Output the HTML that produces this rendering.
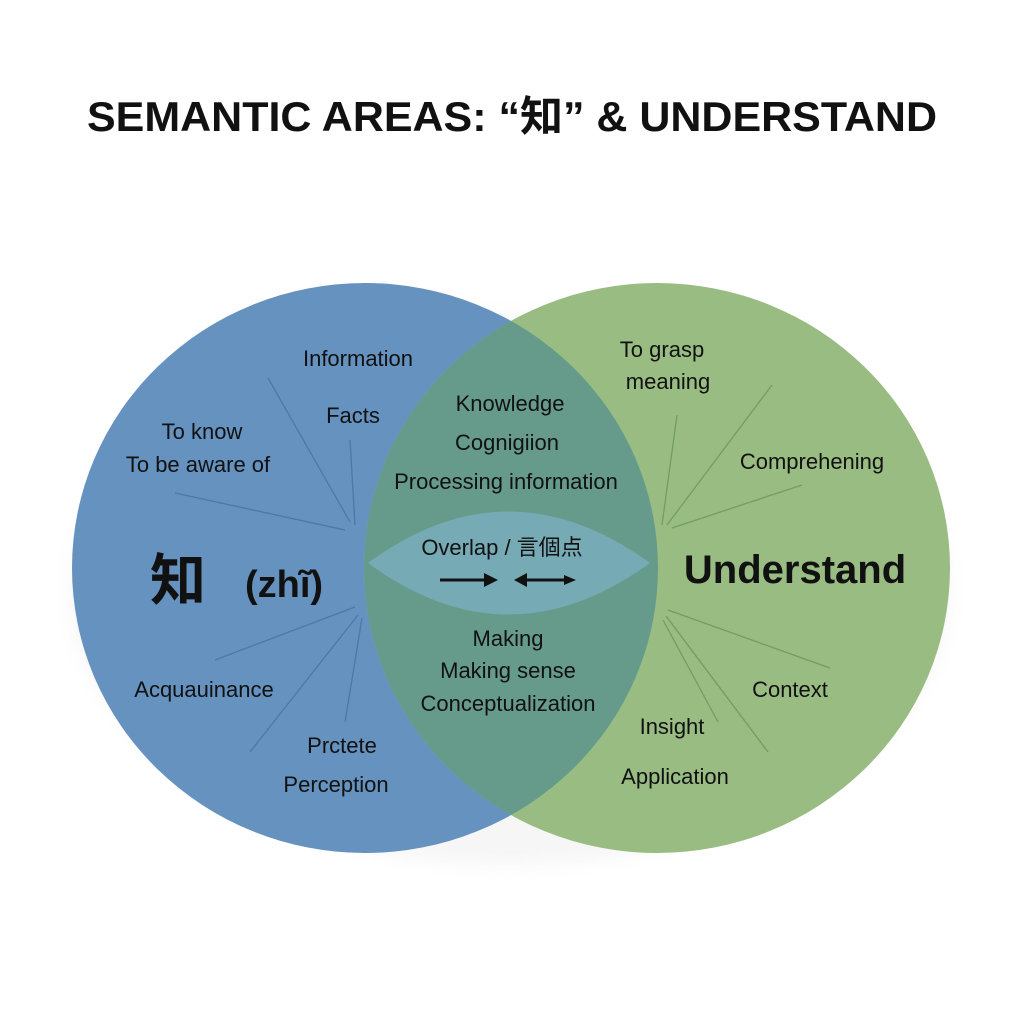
<!DOCTYPE html>
<html><head><meta charset="utf-8"><style>
html,body{margin:0;padding:0;background:#fff}
svg{display:block}
text{font-family:"Liberation Sans","Noto Sans CJK JP",sans-serif;fill:#111}
</style></head><body>
<svg width="1024" height="1024" viewBox="0 0 1024 1024" xmlns="http://www.w3.org/2000/svg">
<defs>
<clipPath id="cl"><ellipse cx="365" cy="568" rx="293" ry="285"/></clipPath>
<filter id="sh" x="-20%" y="-20%" width="140%" height="140%"><feGaussianBlur stdDeviation="8"/></filter>
</defs>
<rect width="1024" height="1024" fill="#fff"/>
<text x="512" y="131" text-anchor="middle" font-size="42" font-weight="bold" textLength="850" lengthAdjust="spacingAndGlyphs">SEMANTIC AREAS: “知” &amp; UNDERSTAND</text>
<ellipse cx="510" cy="590" rx="440" ry="275" fill="#e6e6e6" opacity="0.35" filter="url(#sh)"/>
<ellipse cx="365" cy="568" rx="293" ry="285" fill="#6592bf"/>
<ellipse cx="657" cy="568" rx="293" ry="285" fill="#99bc83"/>
<ellipse cx="657" cy="568" rx="293" ry="285" fill="#669b8b" clip-path="url(#cl)"/>
<path d="M368 563 Q508 460 650 563 Q508 666 368 563Z" fill="#76aab5"/>
<g stroke="#4d76a0" stroke-width="1.3" fill="none" opacity="0.9">
<line x1="268" y1="378" x2="350" y2="522"/>
<line x1="350" y1="440" x2="355" y2="525"/>
<line x1="175" y1="493" x2="345" y2="530"/>
<line x1="215" y1="660" x2="355" y2="607"/>
<line x1="250" y1="752" x2="358" y2="615"/>
<line x1="345" y1="722" x2="362" y2="618"/>
</g>
<g stroke="#6f9a5c" stroke-width="1.3" fill="none" opacity="0.9">
<line x1="677" y1="415" x2="662" y2="525"/>
<line x1="772" y1="385" x2="667" y2="525"/>
<line x1="802" y1="485" x2="672" y2="528"/>
<line x1="830" y1="668" x2="668" y2="610"/>
<line x1="768" y1="752" x2="666" y2="616"/>
<line x1="718" y1="722" x2="663" y2="620"/>
</g>
<g font-size="22" text-anchor="middle">
<text x="358" y="366">Information</text>
<text x="353" y="423">Facts</text>
<text x="202" y="439">To know</text>
<text x="198" y="472">To be aware of</text>
<text x="204" y="697">Acquauinance</text>
<text x="342" y="753">Prctete</text>
<text x="336" y="792">Perception</text>
<text x="510" y="411">Knowledge</text>
<text x="507" y="450">Cognigiion</text>
<text x="506" y="489">Processing information</text>
<text x="502" y="555">Overlap / 言個点</text>
<text x="508" y="646">Making</text>
<text x="508" y="678">Making sense</text>
<text x="508" y="711">Conceptualization</text>
<text x="662" y="357">To grasp</text>
<text x="668" y="389">meaning</text>
<text x="812" y="469">Comprehening</text>
<text x="790" y="697">Context</text>
<text x="672" y="734">Insight</text>
<text x="675" y="784">Application</text>
</g>
<text x="178" y="600" font-size="56" font-weight="bold" text-anchor="middle">知</text>
<text x="284" y="597" font-size="38" font-weight="bold" text-anchor="middle">(zhĩ)</text>
<text x="795" y="583" font-size="40" font-weight="bold" text-anchor="middle">Understand</text>
<g stroke="#111" stroke-width="3" fill="#111">
<line x1="440" y1="580" x2="485" y2="580"/>
<path d="M498 580 L484 573 L484 587Z" stroke="none"/>
<line x1="525" y1="580" x2="565" y2="580"/>
<path d="M514 580 L527 573 L527 587Z" stroke="none"/>
<path d="M576 580 L564 575 L564 585Z" stroke="none"/>
</g>
</svg>
</body></html>
